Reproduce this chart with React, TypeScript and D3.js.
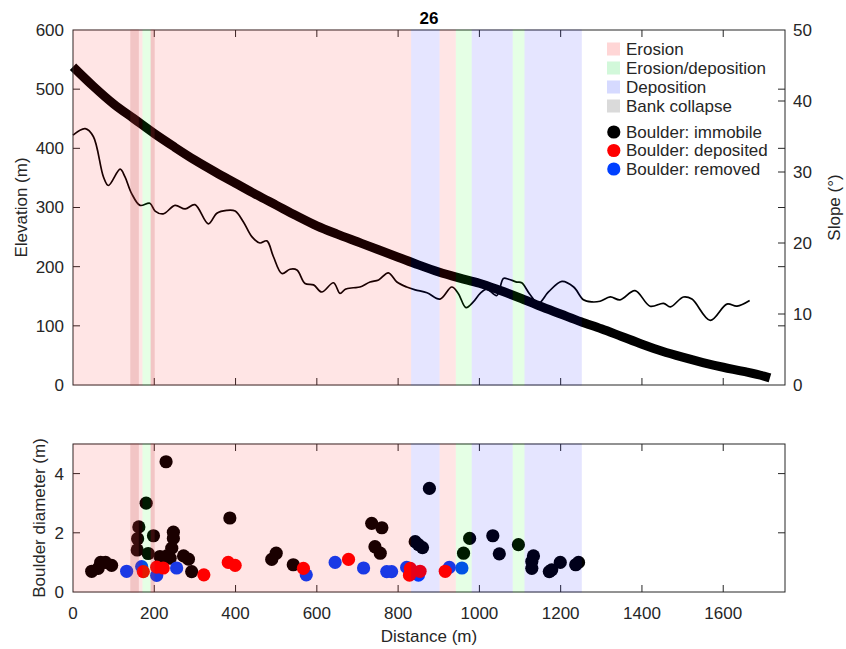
import * as d3 from 'd3';

// longitudinal profile: distance (m) vs channel elevation (m)
const profileDist = [0, 50, 100, 150, 200, 250, 300, 350, 400, 450, 500, 550, 600, 650, 700, 750, 800, 850, 900, 950, 1000, 1050, 1100, 1150, 1200, 1250, 1300, 1350, 1400, 1450, 1500, 1550, 1600, 1650, 1700, 1715];
const profileElev = [538, 505, 475, 450, 425, 402, 380, 360, 341, 322, 304, 286, 269, 255, 242, 229, 216, 203, 191, 181, 172, 160, 147, 133, 120, 107, 95, 82, 69, 57, 47, 38, 30, 23, 15, 12];

// local slope (degrees)
const slopeDist = [0, 30, 50, 75, 87, 116, 128, 144, 165, 189, 202, 222, 251, 276, 300, 333, 354, 378, 399, 419, 440, 460, 477, 493, 514, 534, 551, 571, 592, 612, 641, 657, 670, 690, 706, 731, 752, 776, 797, 821, 842, 871, 903, 932, 948, 967, 985, 1002, 1018, 1043, 1059, 1072, 1092, 1104, 1125, 1145, 1170, 1203, 1232, 1256, 1277, 1297, 1322, 1346, 1383, 1420, 1453, 1470, 1502, 1523, 1568, 1609, 1634, 1665];
const slopeDeg = [35.2, 36.1, 35, 29.3, 28.1, 30.4, 29.3, 27, 25.3, 25.6, 24.5, 24.1, 25.3, 24.8, 25.4, 22.7, 24.2, 24.6, 24.5, 23, 20.9, 20, 20.3, 18.1, 15.7, 16.3, 16.2, 14.3, 14.1, 13.1, 14.4, 12.9, 13.5, 13.7, 13.8, 14.5, 14.8, 15.8, 14.5, 13.8, 13.4, 13, 12.1, 13.8, 12.9, 10.9, 11.7, 12.9, 13.5, 12.6, 15, 14.9, 14.5, 14.4, 12.7, 11.5, 13.1, 14.6, 13.8, 12, 11.7, 11.8, 12.4, 12, 13.3, 11.1, 11.5, 11, 12.4, 12.1, 9.1, 11.4, 11.1, 11.9];

// reaches [start, end] in m
const erosionReaches = [[0, 171], [191, 832], [902, 942]];
const mixedReaches = [[171, 191], [942, 981], [1082, 1111]];
const depositionReaches = [[832, 902], [981, 1082], [1111, 1252]];
const collapseReaches = [[141, 162], [191, 201]];

// boulders [distance, diameter]
const immobile = [[46, 0.7], [62, 0.8], [68, 1.0], [80, 1.0], [95, 0.9], [158, 1.42], [159, 1.8], [162, 2.2], [180, 3.0], [185, 1.3], [198, 1.9], [214, 1.2], [229, 4.4], [231, 1.22], [239, 1.14], [243, 1.48], [247, 1.81], [247, 2.02], [272, 1.22], [284, 1.11], [292, 0.69], [386, 2.5], [489, 1.1], [500, 1.31], [542, 0.92], [735, 2.32], [743, 1.53], [756, 1.31], [760, 2.17], [842, 1.7], [850, 1.6], [860, 1.5], [877, 3.5], [961, 1.31], [976, 1.81], [1033, 1.9], [1049, 1.29], [1096, 1.6], [1129, 0.8], [1129, 1.03], [1133, 1.22], [1172, 0.69], [1178, 0.75], [1199, 1.0], [1237, 0.92], [1244, 1.0]];
const removed = [[132, 0.7], [169, 0.86], [206, 0.56], [255, 0.81], [574, 0.58], [645, 1.0], [715, 0.81], [772, 0.69], [784, 0.69], [821, 0.83], [850, 0.57], [926, 0.83], [957, 0.81]];
const deposited = [[173, 0.69], [206, 0.84], [222, 0.81], [322, 0.58], [382, 1.0], [399, 0.9], [567, 0.8], [678, 1.1], [828, 0.57], [830, 0.8], [854, 0.7], [916, 0.7]];

const xTicks = [0, 200, 400, 600, 800, 1000, 1200, 1400, 1600];
const elevTicks = [0, 100, 200, 300, 400, 500, 600];
const slopeTicks = [0, 10, 20, 30, 40, 50];
const diamTicks = [0, 2, 4];

const legendItems = ['Erosion', 'Erosion/deposition', 'Deposition', 'Bank collapse'];
const legendSwatch = ['#ffd6d6', '#d2f8da', '#d6daff', '#dadada'];
const boulderLabels = ['Boulder: immobile', 'Boulder: deposited', 'Boulder: removed'];
const boulderColors = ['#000000', '#ff0000', '#0040ff'];

const FONT = '"Liberation Sans", Arial, Helvetica, sans-serif';
const AX = '#262626';
const FS = 17;
const TICK = 7;

const L = 73, R = 785;
const top1 = 30, bot1 = 385;
const top2 = 444, bot2 = 592;

const x = d3.scaleLinear().domain([0, 1752]).range([L, R]);
const yElev = d3.scaleLinear().domain([0, 600]).range([bot1, top1]);
const ySlope = d3.scaleLinear().domain([0, 50]).range([bot1, top1]);
const yDiam = d3.scaleLinear().domain([0, 5]).range([bot2, top2]);

function Overlays({ y0, y1 }: { y0: number; y1: number }) {
  const rect = (r: number[], fill: string, key: string) => (
    <rect key={key} x={x(r[0])} width={x(r[1]) - x(r[0])} y={y0 - 0.5} height={y1 - y0 + 1} fill={fill} fillOpacity={0.1} />
  );
  return (
    <g>
      {erosionReaches.map((r, i) => rect(r, '#ff0000', 'e' + i))}
      {mixedReaches.map((r, i) => rect(r, '#00ff00', 'm' + i))}
      {depositionReaches.map((r, i) => rect(r, '#0000ff', 'd' + i))}
      {collapseReaches.map((r, i) => rect(r, '#ff0000', 'cr' + i))}
      {collapseReaches.map((r, i) => rect(r, '#808080', 'cg' + i))}
    </g>
  );
}

function Box({ y0, y1 }: { y0: number; y1: number }) {
  return (
    <g stroke={AX} strokeWidth={1} fill="none">
      <rect x={L} y={y0} width={R - L} height={y1 - y0} />
      {xTicks.slice(1).map((t) => (
        <g key={t}>
          <line x1={x(t)} x2={x(t)} y1={y1} y2={y1 - TICK} />
          <line x1={x(t)} x2={x(t)} y1={y0} y2={y0 + TICK} />
        </g>
      ))}
    </g>
  );
}

export default function App() {
  const elevLine = d3
    .line<number>()
    .x((d, i) => x(profileDist[i]))
    .y((d) => yElev(d))
    .curve(d3.curveMonotoneX);
  const slopeLine = d3
    .line<number>()
    .x((d, i) => x(slopeDist[i]))
    .y((d) => ySlope(d))
    .curve(d3.curveCatmullRom.alpha(0.5));

  const dots = (arr: number[][], color: string) =>
    arr.map((b, i) => <circle key={color + i} cx={x(b[0])} cy={yDiam(b[1])} r={6.6} fill={color} />);

  return (
    <svg width={846} height={649} style={{ position: 'absolute', left: 0, top: 0, background: '#fff' }} fontFamily={FONT} fontSize={FS}>
      <rect width={846} height={649} fill="#fff" />

      {/* top panel */}
      <path d={slopeLine(slopeDeg) || ''} fill="none" stroke="#000" strokeWidth={1.7} />
      <path d={elevLine(profileElev) || ''} fill="none" stroke="#000" strokeWidth={9} strokeLinecap="butt" strokeLinejoin="round" />
      <Box y0={top1} y1={bot1} />
      <g stroke={AX} strokeWidth={1}>
        {elevTicks.slice(1, -1).map((t) => (
          <g key={t}>
            <line x1={L} x2={L + TICK} y1={yElev(t)} y2={yElev(t)} />
            <line x1={R} x2={R - TICK} y1={yElev(t)} y2={yElev(t)} />
          </g>
        ))}
        {slopeTicks.slice(1, -1).map((t) => (
          <line key={t} x1={R} x2={R - TICK} y1={ySlope(t)} y2={ySlope(t)} />
        ))}
      </g>
      <Overlays y0={top1} y1={bot1} />
      <g fill={AX}>
        {elevTicks.map((t) => (
          <text key={t} x={L - 9} y={yElev(t)} dy="0.35em" textAnchor="end">{t}</text>
        ))}
        {slopeTicks.map((t) => (
          <text key={t} x={R + 8} y={ySlope(t)} dy="0.35em" textAnchor="start">{t}</text>
        ))}
        <text transform={`translate(27,${(top1 + bot1) / 2}) rotate(-90)`} textAnchor="middle">Elevation (m)</text>
        <text transform={`translate(840,${(top1 + bot1) / 2}) rotate(-90)`} textAnchor="middle">Slope (°)</text>
        <text x={(L + R) / 2} y={24} textAnchor="middle" fontWeight="bold" fill="#000">26</text>
      </g>

      {/* legend */}
      <g>
        {legendItems.map((s, i) => (
          <g key={s} transform={`translate(607,${49 + i * 19})`}>
            <rect x={0} y={-6.5} width={13} height={13} fill={legendSwatch[i]} />
            <text x={19} y={0} dy="0.35em" fill={AX}>{s}</text>
          </g>
        ))}
        {boulderLabels.map((s, i) => (
          <g key={s} transform={`translate(607,${132 + i * 18.5})`}>
            <circle cx={6.8} cy={0} r={6.6} fill={boulderColors[i]} />
            <text x={19} y={0} dy="0.35em" fill={AX}>{s}</text>
          </g>
        ))}
      </g>

      {/* bottom panel */}
      {dots(immobile, boulderColors[0])}
      {dots(removed, boulderColors[2])}
      {dots(deposited, boulderColors[1])}
      <Box y0={top2} y1={bot2} />
      <g stroke={AX} strokeWidth={1}>
        {diamTicks.slice(1).map((t) => (
          <g key={t}>
            <line x1={L} x2={L + TICK} y1={yDiam(t)} y2={yDiam(t)} />
            <line x1={R} x2={R - TICK} y1={yDiam(t)} y2={yDiam(t)} />
          </g>
        ))}
      </g>
      <Overlays y0={top2} y1={bot2} />
      <g fill={AX}>
        {diamTicks.map((t) => (
          <text key={t} x={L - 9} y={yDiam(t)} dy="0.35em" textAnchor="end">{t}</text>
        ))}
        {xTicks.map((t) => (
          <text key={t} x={x(t)} y={619} textAnchor="middle">{t}</text>
        ))}
        <text transform={`translate(45,${(top2 + bot2) / 2}) rotate(-90)`} textAnchor="middle">Boulder diameter (m)</text>
        <text x={(L + R) / 2} y={642} textAnchor="middle">Distance (m)</text>
      </g>
    </svg>
  );
}
